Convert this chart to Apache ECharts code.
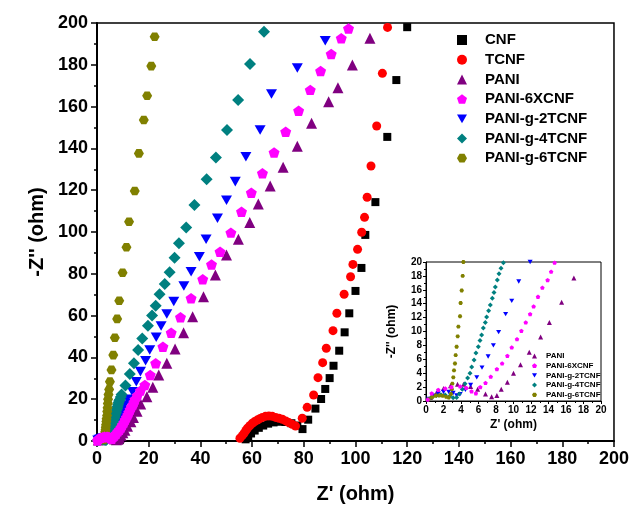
<!DOCTYPE html>
<html>
<head>
<meta charset="utf-8">
<script src="https://cdn.jsdelivr.net/npm/echarts@6/dist/echarts.min.js"></script>
<style>
  html, body { margin: 0; padding: 0; background: #fff; }
  #chart { width: 632px; height: 510px; }
</style>
</head>
<body>
<div id="chart"></div>
<script>
// Nyquist data: each point is [Z' (ohm), -Z'' (ohm)]
const CNF = [[57.5,0.8],[58.5,2.2],[59.6,3.6],[61,5],[62.6,6.3],[64.3,7.4],[66.2,8.3],[68.3,8.9],[70.6,9.2],[72.9,9.1],[75.2,8.5],[77.5,7.4],[79.5,5.7],[81.7,10.2],[84.5,15.5],[86.7,20.1],[88.3,24.9],[90,30.1],[91.5,36],[93.7,43.2],[95.8,52],[97.6,61.1],[100,71.8],[102.3,82.8],[103.8,98.6],[107.7,114.3],[112.3,145.5],[115.8,172.7],[120,198]];

const TCNF = [[55.3,1.3],[56.2,2.6],[56.9,3.7],[57.6,5],[58.2,6.1],[59.1,7.3],[60.1,8.5],[61,9.3],[62,10],[63,10.7],[64,11.3],[65.2,11.8],[66.5,12],[67.8,11.8],[69.1,11.3],[70.4,10.9],[71.7,10.4],[73,9.6],[74.2,8.8],[75.5,8],[76.8,7.2],[79.4,10.9],[81.3,16.1],[83.8,22],[85.5,30.3],[87.3,37.5],[88.7,44.4],[91.3,52.8],[92.8,61.1],[95.6,70.2],[98.1,78.6],[99,84.5],[100.8,91.7],[102.4,99.9],[103.5,107],[104.5,116.6],[106,131.6],[108.2,150.7],[110.4,175.9],[112.4,197.9]];

const PANI = [[0.5,0.5],[1.2,1.2],[2,1.8],[2.8,2.2],[3.6,2.4],[4.3,2.4],[5.1,2.1],[5.9,1.7],[6.8,1.0],[7.5,0.6],[8.1,0.8],[8.6,1.7],[9.3,2.7],[10,4],[10.8,5.2],[11.8,7],[13.1,9.2],[14.1,11.3],[15.5,14.2],[16.9,17.7],[19.3,21.2],[21.6,25.7],[23.9,31.6],[27,37.2],[30.2,44],[33.5,51.8],[37,59.5],[41.2,69],[45.8,79.4],[50.1,89],[54.7,96.5],[59.1,104.6],[62.4,113.4],[67,122],[72,131],[77.5,141],[83,152],[89.6,162.3],[93.2,169],[98.8,179.9],[105.6,192.7]];

const PANI_6XCNF = [[0.2,0.2],[0.65,1.1],[1.4,1.6],[2.2,1.8],[2.9,2.0],[3.9,2.1],[4.6,1.9],[5.2,1.4],[5.7,1.1],[6.2,2.0],[6.8,2.6],[7.4,3.5],[8.1,4.6],[8.7,5.4],[9.3,6.5],[9.8,7.7],[10.4,8.9],[10.9,10.1],[11.4,11.3],[11.9,12.5],[12.3,13.6],[12.8,15],[13.3,16.3],[13.9,17.4],[14.3,18.6],[14.7,19.9],[15.6,21.8],[16.8,24.1],[18.5,26.8],[20.6,31.6],[22.7,37.2],[25.5,45.1],[28.7,51.8],[32.3,59.2],[36.4,68.3],[40.9,77.4],[44.3,84.5],[47.6,90.6],[51.8,99.7],[55.9,109.7],[59.7,118.8],[64,128.1],[68.5,138],[73,148],[78,158],[82.5,168],[86.5,177],[90.6,185.2],[94.5,192.7],[97.3,197.4]];

const PANI_G_2TCNF = [[0.3,0.3],[0.8,0.75],[1.4,1.1],[2.0,1.3],[2.6,1.3],[3.1,1.15],[3.5,0.8],[3.9,1.0],[4.5,1.6],[5.1,2.3],[5.8,3.4],[6.4,4.8],[7.1,6.4],[7.7,8],[8.3,9.9],[9.1,12.5],[9.8,14.4],[10.6,17.2],[11.9,20],[13.7,23.6],[15.2,28.4],[16.8,33.2],[18.8,38.4],[20.4,43.5],[22.9,49.6],[24.8,55],[27,60.8],[29.7,66.7],[33.6,74.2],[36.4,81],[39.6,88.2],[42.2,96.5],[46.6,106.6],[50.1,115.2],[53.5,124.1],[57.6,136],[63.1,148.8],[67.5,166],[77.5,178.5],[88.3,191.5]];

const PANI_G_4TCNF = [[0.3,0.25],[0.7,0.55],[1.2,0.8],[1.7,0.9],[2.2,0.85],[2.7,0.7],[3.1,0.45],[3.5,0.5],[3.8,1.0],[4.15,1.7],[4.46,2.5],[4.76,3.3],[5.03,4.0],[5.22,4.9],[5.49,5.9],[5.71,6.9],[5.98,7.8],[6.17,8.7],[6.36,9.5],[6.55,10.5],[6.78,11.3],[6.93,12.1],[7.16,13],[7.35,13.8],[7.58,14.8],[7.77,15.6],[7.92,16.4],[8.15,17.4],[8.34,18.3],[8.57,19.1],[8.84,19.9],[9.2,21],[9.5,22.3],[11,26.5],[12.7,32.1],[14.3,37.2],[15.9,43.5],[17.5,49.1],[19.7,55.2],[21.3,60],[22.7,64.7],[24.2,70.2],[26.2,75.1],[28.1,80.7],[30,87.7],[31.7,94.6],[34.5,102.2],[37.7,112.9],[42.4,125.2],[46,135.6],[50.3,148.8],[54.6,163.2],[59.2,180.4],[64.6,195.8]];

const PANI_G_6TCNF = [[0.3,0.25],[0.7,0.55],[1.1,0.75],[1.5,0.8],[1.9,0.75],[2.3,0.6],[2.6,0.5],[2.85,1.0],[2.95,1.7],[3.01,2.5],[3.12,3.4],[3.2,4.4],[3.31,5.4],[3.39,6.6],[3.5,7.8],[3.62,9.3],[3.7,10.7],[3.89,12.2],[3.96,14.1],[4.08,15.9],[4.19,18],[4.27,20],[4.45,22.2],[4.7,24.7],[5,28.4],[5.6,34],[6.3,41.1],[6.9,49.4],[7.8,58.4],[8.6,67.1],[9.9,80.5],[11.4,92.7],[12.4,104.9],[14.6,119.6],[16.2,137.6],[18.1,153.6],[19.4,165.2],[21,179.4],[22.3,193.4]];

const mainNames = ['CNF', 'TCNF', 'PANI', 'PANI-6XCNF', 'PANI-g-2TCNF', 'PANI-g-4TCNF', 'PANI-g-6TCNF'];
const insetNames = ['PANI', 'PANI-6XCNF', 'PANI-g-2TCNF', 'PANI-g-4TCNF', 'PANI-g-6TCNF'];
const mainTicks = { min: 0, max: 200, interval: 20 };
const insetTicks = { min: 0, max: 20, interval: 2 };

const FONT = '"Liberation Sans", Arial, sans-serif';
const PENTAGON = 'path://M0,-10 L9.51,-3.09 L5.88,8.09 L-5.88,8.09 L-9.51,-3.09 Z';
const HEXAGON = 'path://M-5,-8.66 L5,-8.66 L10,0 L5,8.66 L-5,8.66 L-10,0 Z';
const DOWN_TRIANGLE = 'path://M-5,0 L5,0 L0,8.66 Z';

// marker style per series: [data, colour, symbol, main size, inset size]
const styles = {
  'CNF':          [CNF,          '#000000', 'rect',        8,  4],
  'TCNF':         [TCNF,         '#ff0000', 'circle',      9,  4],
  'PANI':         [PANI,         '#800080', 'triangle',   11,  5],
  'PANI-6XCNF':   [PANI_6XCNF,   '#ff00ff', PENTAGON,     11,  4.5],
  'PANI-g-2TCNF': [PANI_G_2TCNF, '#0000ff', DOWN_TRIANGLE, 11, 5],
  'PANI-g-4TCNF': [PANI_G_4TCNF, '#008080', 'diamond',    12,  5],
  'PANI-g-6TCNF': [PANI_G_6TCNF, '#808000', HEXAGON,      10,  4.5]
};
// drawing order: magenta on top
const drawOrder = ['CNF', 'TCNF', 'PANI', 'PANI-g-2TCNF', 'PANI-g-4TCNF', 'PANI-g-6TCNF', 'PANI-6XCNF'];

function axis(gridIndex, ticks, labelSize, name, nameSize, nameGap, big) {
  return {
    type: 'value', gridIndex, min: ticks.min, max: ticks.max, interval: ticks.interval,
    name, nameLocation: 'middle', nameGap,
    nameTextStyle: { fontFamily: FONT, fontWeight: 'bold', fontSize: nameSize, color: '#000' },
    axisLine: { show: true, onZero: false, lineStyle: { color: '#000', width: big ? 2 : 1 } },
    axisTick: { show: true, inside: false, length: big ? 6 : 3, lineStyle: { color: '#000', width: big ? 1.5 : 1 } },
    minorTick: { show: true, splitNumber: 2, length: big ? 3 : 2, lineStyle: { color: '#000', width: big ? 1.5 : 1 } },
    splitLine: { show: false },
    axisLabel: { fontFamily: FONT, fontWeight: 'bold', fontSize: labelSize, color: '#000', margin: big ? 9 : 4 }
  };
}

function legendItems(names) {
  return names.map(function (n) {
    return { name: n, icon: styles[n][2] };
  });
}

const series = [];
drawOrder.forEach(function (n) {
  const s = styles[n];
  series.push({
    name: n, type: 'scatter', xAxisIndex: 0, yAxisIndex: 0, data: s[0],
    symbol: s[2], symbolSize: s[3], symbolKeepAspect: true, clip: true,
    itemStyle: { color: s[1], opacity: 1 }, z: 2
  });
});
drawOrder.filter(n => insetNames.indexOf(n) >= 0).forEach(function (n) {
  const s = styles[n];
  series.push({
    name: n, type: 'scatter', xAxisIndex: 1, yAxisIndex: 1, data: s[0],
    symbol: s[2], symbolSize: s[4], symbolKeepAspect: true, clip: true,
    itemStyle: { color: s[1], opacity: 1 }, z: 5
  });
});

const chart = echarts.init(document.getElementById('chart'), null, { renderer: 'canvas' });
chart.setOption({
  backgroundColor: '#fff',
  animation: false,
  grid: [
    { left: 97, right: 15, top: 23, bottom: 69, show: true, borderColor: '#000', borderWidth: 1.5, backgroundColor: 'transparent', z: 0 },
    { left: 426, width: 175, top: 262, height: 139, show: true, borderColor: '#000', borderWidth: 1, backgroundColor: '#fff', z: 4 }
  ],
  xAxis: [
    axis(0, mainTicks, 18, "Z' (ohm)", 20, 43, true),
    Object.assign(axis(1, insetTicks, 10, "Z' (ohm)", 12, 18, false), { z: 5 })
  ],
  yAxis: [
    axis(0, mainTicks, 18, "-Z'' (ohm)", 20, 50, true),
    Object.assign(axis(1, insetTicks, 10, "-Z'' (ohm)", 12, 28, false), { z: 5 })
  ],
  legend: [
    {
      data: legendItems(mainNames), orient: 'vertical', left: 457, top: 32.5, padding: 0,
      itemWidth: 10, itemHeight: 10, itemGap: 4.7, selectedMode: false, symbolKeepAspect: true,
      textStyle: { fontFamily: FONT, fontWeight: 'bold', fontSize: 15, lineHeight: 15, color: '#000', padding: [0, 0, 0, 13] }
    },
    {
      data: legendItems(insetNames), orient: 'vertical', left: 532, top: 352, padding: 0,
      itemWidth: 5, itemHeight: 5, itemGap: 1.7, selectedMode: false, z: 6, symbolKeepAspect: true,
      textStyle: { fontFamily: FONT, fontWeight: 'bold', fontSize: 8, lineHeight: 8, color: '#000', padding: [0, 0, 0, 4] }
    }
  ],
  series
});
</script>
</body>
</html>
